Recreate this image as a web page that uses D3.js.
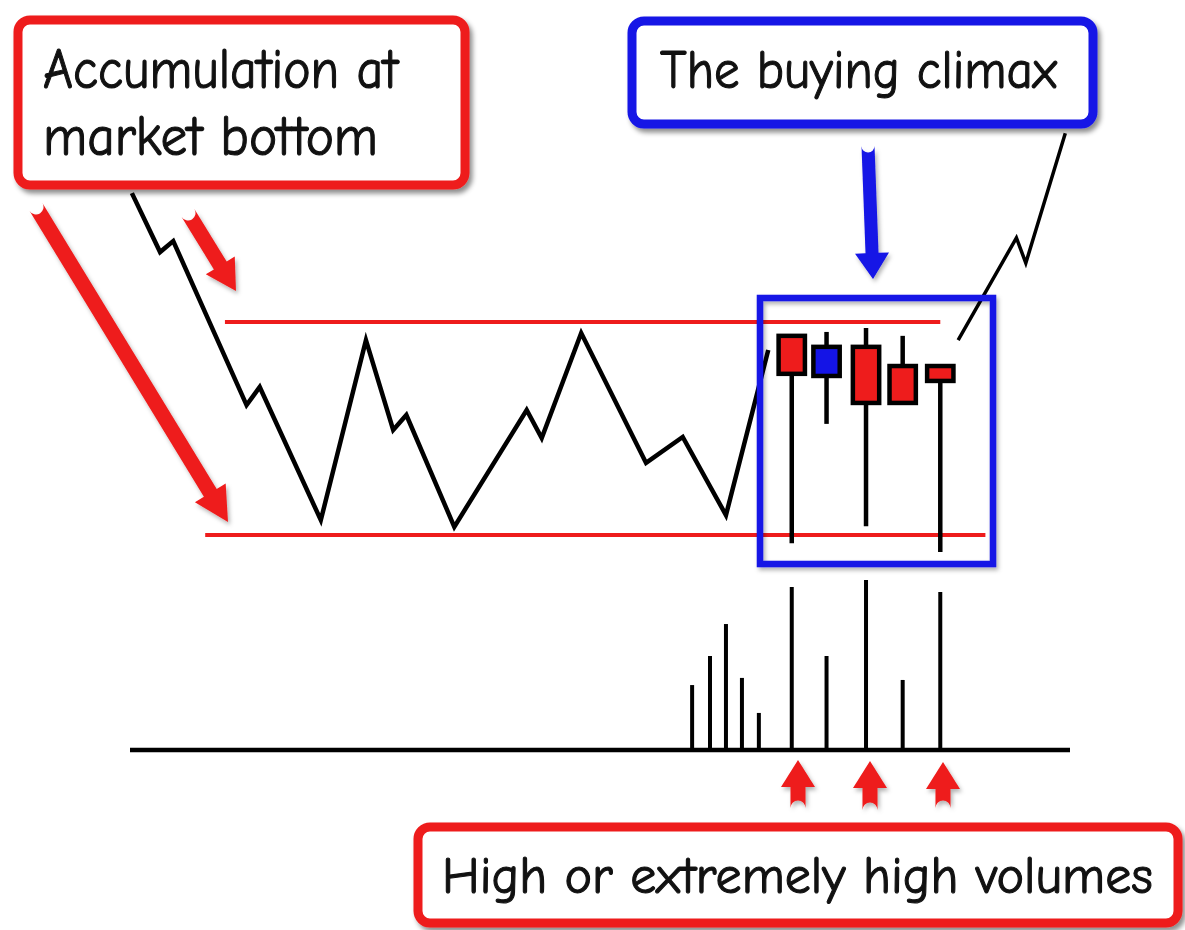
<!DOCTYPE html>
<html>
<head>
<meta charset="utf-8">
<script src="https://cdn.jsdelivr.net/npm/d3@7"></script>
<style>
  html, body { margin: 0; padding: 0; background: #ffffff; }
  svg { display: block; }
  .lbl { font-family: "Comic Sans MS", "Comic Neue", "Noto Sans", sans-serif; fill: #111; stroke: #111; stroke-width: 1.1; }
</style>
</head>
<body>
<svg id="chart" width="1185" height="930"></svg>
<script>
// ---------------- DATA ----------------
// Price path (time index, price) before the climax
const rangeT = [0.2, 3.2, 4.6, 12.4, 13.8, 20.3, 25.1, 28.0, 29.4, 34.5, 42.2, 43.8, 48.0, 54.9, 58.8, 63.4, 67.9];
const rangeP = [116.3, 99.7, 102.8, 56.6, 61.7, 24.2, 74.9, 49.6, 53.8, 22.3, 55.2, 47.3, 76.9, 40.3, 47.6, 25.6, 72.1];
// Price path after the climax (breakout)
const breakoutT = [88.1, 94.3, 95.3, 99.5];
const breakoutP = [74.9, 103.7, 96.6, 133.2];

// Climax candles
const candleT     = [70.4, 74.1, 78.3, 82.2, 86.2];
const candleOpen  = [76.1, 64.8, 73.0, 67.6, 67.6];
const candleHigh  = [76.1, 77.2, 78.3, 76.1, 67.6];
const candleLow   = [17.7, 51.3, 22.5, 57.2, 15.2];
const candleClose = [65.4, 73.0, 57.2, 57.2, 63.4];

// Volume bars
const volumeT = [59.8, 61.7, 63.4, 65.1, 66.9, 70.4, 74.1, 78.3, 82.2, 86.2];
const volumeV = [38.2, 55.3, 74.1, 42.4, 21.8, 95.9, 55.3, 100.0, 41.2, 92.9];

// Trading range levels
const resistanceLevel = 80;
const resistanceSpan = [10.1, 86.2];
const supportLevel = 20;
const supportSpan = [8.0, 91.0];

// Texts
const labelAccumulation = ["Accumulation at", "market bottom"];
const labelClimax = "The buying climax";
const labelVolumes = "High or extremely high volumes";

// ---------------- SCALES ----------------
const svg = d3.select("#chart");
const x = d3.scaleLinear().domain([0, 100]).range([130, 1070]);
const y = d3.scaleLinear().domain([20, 80]).range([535, 322]);
const yv = d3.scaleLinear().domain([0, 100]).range([750, 580]);

const RED = "#ee1c1c";
const BLUE = "#1414e6";

// shadow filters
const defs = svg.append("defs");
const f = defs.append("filter").attr("id", "shadow").attr("x", "-20%").attr("y", "-20%").attr("width", "140%").attr("height", "140%");
f.append("feDropShadow").attr("dx", 3).attr("dy", 4).attr("stdDeviation", 2.5).attr("flood-color", "#000").attr("flood-opacity", 0.45);
const f2 = defs.append("filter").attr("id", "shadowLight").attr("x", "-20%").attr("y", "-20%").attr("width", "140%").attr("height", "140%");
f2.append("feDropShadow").attr("dx", 2).attr("dy", 3).attr("stdDeviation", 2).attr("flood-color", "#000").attr("flood-opacity", 0.3);

// ---------------- LEVEL LINES ----------------
svg.append("line")
  .attr("x1", x(resistanceSpan[0])).attr("x2", x(resistanceSpan[1]))
  .attr("y1", y(resistanceLevel)).attr("y2", y(resistanceLevel))
  .attr("stroke", RED).attr("stroke-width", 4);
svg.append("line")
  .attr("x1", x(supportSpan[0])).attr("x2", x(supportSpan[1]))
  .attr("y1", y(supportLevel)).attr("y2", y(supportLevel))
  .attr("stroke", RED).attr("stroke-width", 4);

// ---------------- PRICE LINE ----------------
const line = d3.line().x(d => x(d[0])).y(d => y(d[1]));
svg.append("path")
  .attr("d", line(rangeT.map((t, i) => [t, rangeP[i]])))
  .attr("fill", "none").attr("stroke", "#000").attr("stroke-width", 4.5)
  .attr("stroke-linejoin", "miter");
svg.append("path")
  .attr("d", line(breakoutT.map((t, i) => [t, breakoutP[i]])))
  .attr("fill", "none").attr("stroke", "#000").attr("stroke-width", 3.5)
  .attr("stroke-linejoin", "miter");

// ---------------- CANDLES ----------------
const cw = x(2.8) - x(0);
const candles = candleT.map((t, i) => ({t, o: candleOpen[i], h: candleHigh[i], l: candleLow[i], c: candleClose[i]}));
const cg = svg.append("g");
cg.selectAll("line.wick").data(candles).join("line")
  .attr("class", "wick")
  .attr("x1", d => x(d.t)).attr("x2", d => x(d.t))
  .attr("y1", d => y(d.h)).attr("y2", d => y(d.l))
  .attr("stroke", "#000").attr("stroke-width", 4.5);
cg.selectAll("rect.body").data(candles).join("rect")
  .attr("class", "body")
  .attr("x", d => x(d.t) - cw / 2)
  .attr("width", cw)
  .attr("y", d => y(Math.max(d.o, d.c)))
  .attr("height", d => Math.max(2, y(Math.min(d.o, d.c)) - y(Math.max(d.o, d.c))))
  .attr("fill", d => d.c > d.o ? BLUE : RED)
  .attr("stroke", "#000").attr("stroke-width", 4.5);

// Climax box
svg.append("rect")
  .attr("x", 760).attr("y", 298).attr("width", 233).attr("height", 266)
  .attr("fill", "none").attr("stroke", BLUE).attr("stroke-width", 6.5)
  .attr("filter", "url(#shadowLight)");

// ---------------- VOLUME ----------------
svg.append("line")
  .attr("x1", x(0)).attr("x2", x(100)).attr("y1", yv(0)).attr("y2", yv(0))
  .attr("stroke", "#000").attr("stroke-width", 4.5);
svg.append("g").selectAll("line").data(volumeT.map((t, i) => [t, volumeV[i]])).join("line")
  .attr("x1", d => x(d[0])).attr("x2", d => x(d[0]))
  .attr("y1", yv(0)).attr("y2", d => yv(d[1]))
  .attr("stroke", "#000").attr("stroke-width", 4);

// ---------------- ANNOTATION ARROWS ----------------
function arrowPath(x0, y0, x1, y1, shaft, headLen, headW) {
  const dx = x1 - x0, dy = y1 - y0, L = Math.hypot(dx, dy);
  const ux = dx / L, uy = dy / L, px = -uy, py = ux;
  const bx = x1 - ux * headLen, by = y1 - uy * headLen;
  const s = shaft / 2, h = headW / 2;
  const p = d3.path();
  p.moveTo(x0 + px * s, y0 + py * s);
  p.lineTo(bx + px * s, by + py * s);
  p.lineTo(bx + px * h, by + py * h);
  p.lineTo(x1, y1);
  p.lineTo(bx - px * h, by - py * h);
  p.lineTo(bx - px * s, by - py * s);
  p.lineTo(x0 - px * s, y0 - py * s);
  const ang = Math.atan2(py, px);
  p.arc(x0, y0, s, ang + Math.PI, ang, false);
  p.closePath();
  return p.toString();
}
const arrows = [
  {x0: 36, y0: 207, x1: 228, y1: 522, shaft: 15, hl: 34, hw: 36, c: RED},
  {x0: 188, y0: 213, x1: 236, y1: 291, shaft: 15, hl: 30, hw: 34, c: RED},
  {x0: 868, y0: 146, x1: 873, y1: 279, shaft: 13, hl: 26, hw: 34, c: BLUE},
  {x0: 798, y0: 808, x1: 798, y1: 760, shaft: 15, hl: 27, hw: 34, c: RED},
  {x0: 870, y0: 810, x1: 870, y1: 761, shaft: 15, hl: 27, hw: 34, c: RED},
  {x0: 943, y0: 808, x1: 943, y1: 762, shaft: 15, hl: 27, hw: 34, c: RED}
];
svg.append("g").selectAll("path").data(arrows).join("path")
  .attr("d", d => arrowPath(d.x0, d.y0, d.x1, d.y1, d.shaft, d.hl, d.hw))
  .attr("fill", d => d.c)
  .attr("filter", "url(#shadowLight)");

// ---------------- LABEL BOXES ----------------
function labelBox(bx, by, bw, bh, color) {
  svg.append("rect")
    .attr("x", bx).attr("y", by).attr("width", bw).attr("height", bh)
    .attr("rx", 12).attr("ry", 12)
    .attr("fill", "#ffffff").attr("stroke", color).attr("stroke-width", 9)
    .attr("filter", "url(#shadow)");
}
labelBox(18, 20, 447, 165, RED);
labelBox(632, 21, 461, 103, BLUE);
labelBox(418, 827, 760, 96, RED);

svg.append("text").attr("class", "lbl").attr("x", 43).attr("y", 88)
  .attr("font-size", 57).attr("textLength", 355).attr("lengthAdjust", "spacingAndGlyphs")
  .text(labelAccumulation[0]);
svg.append("text").attr("class", "lbl").attr("x", 43).attr("y", 155)
  .attr("font-size", 57).attr("textLength", 335).attr("lengthAdjust", "spacingAndGlyphs")
  .text(labelAccumulation[1]);
svg.append("text").attr("class", "lbl").attr("x", 660).attr("y", 88)
  .attr("font-size", 55).attr("textLength", 397).attr("lengthAdjust", "spacingAndGlyphs")
  .text(labelClimax);
svg.append("text").attr("class", "lbl").attr("x", 442).attr("y", 893)
  .attr("font-size", 52).attr("textLength", 711).attr("lengthAdjust", "spacingAndGlyphs")
  .text(labelVolumes);
</script>
</body>
</html>
